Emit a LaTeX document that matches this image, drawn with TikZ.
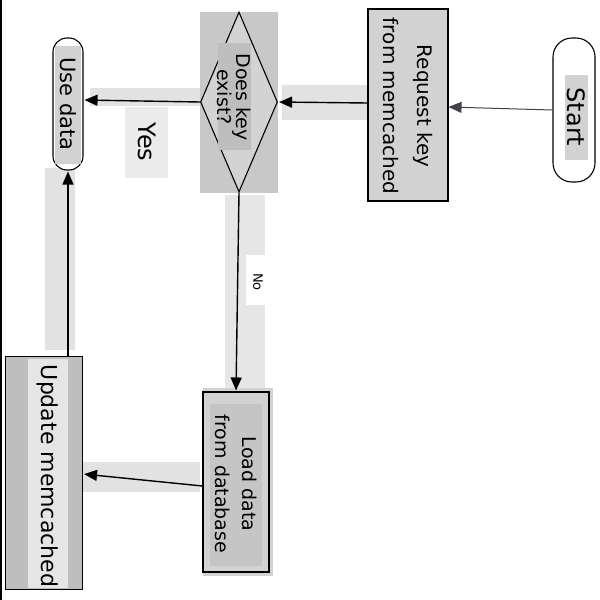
\documentclass[tikz,border=0pt]{standalone}
\usepackage{fontspec}
\setmainfont{DejaVu Sans}
\usetikzlibrary{arrows.meta,shapes.geometric}
\definecolor{boxgray}{HTML}{D2D2D2}
\definecolor{bargray}{HTML}{E2E2E2}
\definecolor{darkgray}{HTML}{BEBEBE}
\definecolor{midgray}{HTML}{C8C8C8}
\definecolor{inkgray}{HTML}{45404D}
\tikzset{
  ink/.style={draw=black, line width=1.1pt},
  label text/.style={rotate=-90, align=center, inner sep=0pt, text=black},
  flow/.style={draw=black, line width=1.4pt, -{Triangle[length=13pt,width=11pt]}, shorten >=1pt},
  thin flow/.style={draw=inkgray, line width=1pt, -{Triangle[length=13pt,width=11pt]}}
}
\begin{document}
\begin{tikzpicture}[x=1pt,y=-1pt]
\useasboundingbox (0,0) rectangle (600,600);
\fill[white] (0,0) rectangle (600,600);
\draw[line width=2pt] (1,0) -- (1,600);

% highlight bands behind the connectors and labels
\fill[bargray] (282,85) rectangle (367,120);
\fill[bargray] (90,88) rectangle (200,106);
\fill[bargray!70] (125,107) rectangle (168,178);
\fill[bargray!85] (225,195) rectangle (265,388);
\fill[white] (246,255) rectangle (272,305);
\fill[bargray] (82,462) rectangle (200,492);
\fill[bargray] (45,168) rectangle (75,350);

% start terminal
\node[ink, fill=white, rounded corners=19pt, minimum width=42pt, minimum height=144pt] (start) at (574,110) {};
\fill[boxgray] (565,75) rectangle (588,160);
\node[label text, font=\fontsize{24}{28}\selectfont] (starttext) at (576,117) {Start};

% request step
\node[ink, fill=boxgray, minimum width=80pt, minimum height=192pt] (req) at (408,105) {};
\node[label text, font=\fontsize{20}{34}\selectfont] (reqtext) at (408,106) {Request key\\from memcached};

% decision
\fill[midgray] (200,12) rectangle (278,193);
\node[ink, shape=diamond, fill=midgray!80, inner sep=0pt, minimum width=77pt, minimum height=180pt] (dec) at (239,102) {};
\fill[darkgray] (218,43) rectangle (251,150);
\node[label text, font=\fontsize{19}{19}\selectfont] (dectext) at (234,97) {Does key\\exist?};

% use data terminal
\node[ink, fill=white, rounded corners=14pt, minimum width=30pt, minimum height=132pt] (use) at (68,104) {};
\fill[boxgray] (55,46) rectangle (81,164);
\node[label text, font=\fontsize{21}{24}\selectfont] (usetext) at (68,104) {Use data};

% load step
\fill[boxgray] (203,388) rectangle (273,576);
\node[ink, minimum width=66pt, minimum height=180pt] (load) at (236,482) {};
\fill[darkgray!90] (210,404) rectangle (262,566);
\node[label text, font=\fontsize{19}{27}\selectfont] (loadtext) at (236,484) {Load data\\from database};

% update step
\node[ink, fill=darkgray, minimum width=77pt, minimum height=233pt] (upd) at (44,473) {};
\fill[bargray!90] (28,359) rectangle (68,588);
\node[label text, font=\fontsize{22}{26}\selectfont] (updtext) at (48,476) {Update memcached};

% connectors
\draw[thin flow] (start.west) -- (req.east |- 0,107);
\draw[flow] (req.west |- 0,103) -- (dec.east);
\draw[flow] (dec.west) -- (use.east |- 0,100);
\draw[flow] (dec.south) -- (load.north);
\draw[flow] (load.west |- 0,486) -- (upd.east |- 0,474);
\draw[flow] (use.south |- upd.north) -- (use.south);

% branch labels
\node[label text, font=\fontsize{24}{28}\selectfont] (yes) at (147,142) {Yes};
\node[label text, font=\fontsize{13}{16}\selectfont] (no) at (258,282) {No};
\end{tikzpicture}
\end{document}
